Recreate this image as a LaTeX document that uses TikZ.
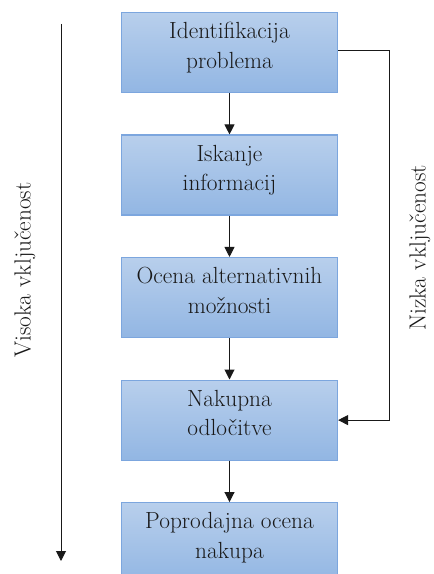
\documentclass[tikz,border=0pt]{standalone}
\usepackage{fontspec}
\usetikzlibrary{positioning, arrows.meta}

\definecolor{boxtop}{RGB}{184,207,236}
\definecolor{boxbottom}{RGB}{146,182,227}
\definecolor{boxline}{RGB}{124,166,222}
\definecolor{ink}{RGB}{25,25,25}

\begin{document}
\begin{tikzpicture}[
  x=0.75pt, y=-0.75pt,
  node distance=31pt,
  font=\fontsize{17.5}{22}\selectfont,
  text=ink,
  stage/.style={
    draw=boxline,
    line width=0.9pt,
    top color=boxtop,
    bottom color=boxbottom,
    minimum width=162pt,
    minimum height=60pt,
    text depth=11pt,
    align=center,
    inner sep=0pt
  },
  arrow/.style={-{Triangle[length=7.5pt,width=7.5pt]}, line width=0.75pt, draw=ink}
]
\useasboundingbox (0,0) rectangle (433,574);

% Stages
\node[stage] (ident) at (229.5,52.5) {Identifikacija\\problema};
\node[stage, below=of ident] (search) {Iskanje\\informacij};
\node[stage, below=of search] (eval) {Ocena alternativnih\\možnosti};
\node[stage, below=of eval] (decide) {Nakupna\\odločitve};
\node[stage, below=of decide] (post) {Poprodajna ocena\\nakupa};

% Arrows
\draw[arrow] (ident) -- (search);
\draw[arrow] (search) -- (eval);
\draw[arrow] (eval) -- (decide);
\draw[arrow] (decide) -- (post);

% Low involvement shortcut
\coordinate (lowbend) at (389,51);
\draw[arrow] (ident.east |- lowbend) -- (lowbend) |- (decide.east);
\node[rotate=90] (lowlbl) at (420,248) {Nizka vključenost};

% High involvement axis
\coordinate (hightop) at (61,24);
\coordinate (highbot) at (61,561);
\draw[arrow] (hightop) -- (highbot);
\node[rotate=90] (highlbl) at (25,270) {Visoka vključenost};

\end{tikzpicture}
\end{document}
